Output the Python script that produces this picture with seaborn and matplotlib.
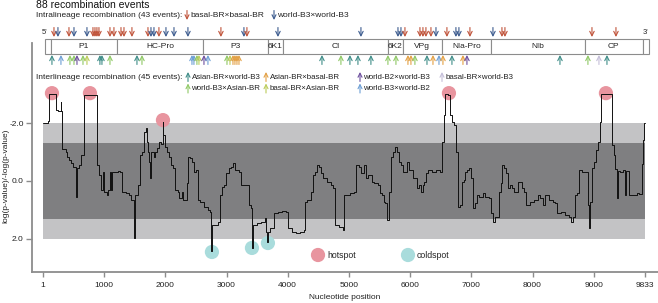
import numpy as np
import matplotlib
matplotlib.use("Agg")
import matplotlib.pyplot as plt
import seaborn as sns

# --- recombination profile (step line) ---
position = [1, 82, 102, 210, 250, 290, 300, 306, 318, 369, 401, 433, 465, 497, 540, 552, 592, 624, 670,
            880, 915, 950, 985, 995, 1040, 1071, 1100, 1110, 1134, 1230, 1262, 1294, 1357, 1402, 1440,
            1485, 1495, 1505, 1549, 1581, 1612, 1644, 1676, 1695, 1721, 1740, 1755, 1765, 1816, 1836,
            1867, 1899, 1931, 1955, 1968, 1995, 2027, 2059, 2091, 2122, 2154, 2205, 2231, 2269, 2295,
            2346, 2377, 2409, 2441, 2473, 2505, 2537, 2569, 2632, 2696, 2728, 2745, 2755, 2824, 2868,
            2887, 2919, 2951, 2996, 3047, 3079, 3111, 3142, 3206, 3238, 3302, 3366, 3397, 3412, 3425,
            3493, 3557, 3621, 3652, 3665, 3680, 3716, 3780, 3844, 3907, 3971, 4003, 4067, 4131, 4194,
            4258, 4290, 4322, 4386, 4417, 4449, 4481, 4513, 4545, 4577, 4641, 4704, 4736, 4768, 4832,
            4896, 4927, 5023, 5087, 5119, 5163, 5202, 5246, 5278, 5310, 5374, 5406, 5469, 5501, 5533,
            5565, 5597, 5629, 5661, 5692, 5724, 5756, 5788, 5820, 5852, 5884, 5916, 5947, 5979, 6043,
            6107, 6139, 6171, 6202, 6234, 6266, 6298, 6362, 6426, 6489, 6521, 6553, 6572, 6617, 6649,
            6681, 6712, 6744, 6776, 6808, 6840, 6872, 6904, 6936, 6967, 6999, 7031, 7063, 7095, 7127,
            7191, 7222, 7286, 7318, 7350, 7382, 7446, 7477, 7509, 7541, 7573, 7605, 7637, 7668, 7700,
            7764, 7828, 7860, 7892, 7956, 8019, 8083, 8115, 8147, 8179, 8211, 8242, 8274, 8338, 8370,
            8402, 8466, 8529, 8593, 8625, 8657, 8689, 8721, 8752, 8816, 8880, 8912, 8920, 8935, 8976,
            9007, 9039, 9071, 9103, 9122, 9294, 9326, 9345, 9380, 9390, 9421, 9485, 9510, 9520, 9570,
            9645, 9708, 9740, 9790, 9805, 9818, 9833]
score = [-2.00, -2.07, -2.99, -2.45, -2.41, -2.74, -2.41, -1.93, -1.10, -1.00, -0.84, -0.72, -0.61, -0.49, 0.55, -0.45, -0.55, -0.90, -2.97,
         -0.55, -0.20, 0.30, -0.32, 0.37, 0.48, 0.31, -0.32, 0.31, -0.32, -0.34, -0.30, 0.37, 0.43, 0.48, 0.66,
         0.71, 1.95, 0.48, 0.14, -0.90, -1.01, -1.70, -1.82, -1.36, -1.01, -0.67, -0.09, -1.01, -0.84, -1.01,
         -1.13, -1.36, -1.26, -2.05, -1.59, -1.18, -1.01, -0.84, -0.55, -0.44, 0.31, 0.37, 0.60, 0.37, 0.66,
         0.08, -0.84, -0.78, -0.67, -0.32, -0.38, 0.66, 0.71, 0.89, 1.00, 1.06, 2.40, 1.52, 1.52, 1.40,
         0.48, 0.20, 0.14, -0.26, -0.44, -0.49, -0.61, -0.38, -0.32, 0.14, 0.14, 0.83, 0.94, 2.30, 1.52,
         1.46, 1.40, 1.29, 1.75, 2.10, 1.75, 1.63, 1.12, 1.08, 1.03, 1.06, 1.63, 1.75, 1.80, 1.75,
         1.69, 0.71, 0.66, 0.37, -0.21, -0.32, -0.55, -0.49, -0.26, -0.09, 0.02, 0.14, 0.25, 1.52, 1.58,
         1.69, 0.48, 0.43, 0.37, -0.55, -0.49, -0.26, -0.55, -0.09, -0.21, 0.02, 0.08, 0.14, 0.43, 0.48,
         0.71, 0.77, 1.35, 0.37, -0.84, -1.01, -1.18, -1.01, -0.67, -0.55, -0.32, -0.32, -0.67, -0.38, -0.09,
         0.25, 0.14, 0.37, 0.14, 0.02, -0.26, -0.38, -0.32, -0.38, -0.32, -1.36, -2.28, -2.99, -2.97, -2.28,
         -2.05, -1.93, -1.01, 0.89, 0.83, 0.02, -0.03, -0.32, -0.38, -0.44, -0.09, 0.94, 0.77, 0.48, 0.54,
         0.43, 0.54, 0.60, 1.12, 1.40, 1.23, 0.37, 0.08, -0.55, -0.44, -0.26, 0.25, 0.14, 0.25, 0.37,
         0.02, 0.25, 0.37, 0.83, 0.71, 0.66, 0.48, 0.60, 0.60, 0.83, 0.48, 0.48, 0.66, 0.71, 0.77,
         1.12, 1.06, 1.17, 1.23, 1.40, 1.23, 0.48, 0.43, -0.38, -0.32, -0.30, 0.83, 1.63, 0.71, -0.44,
         -0.67, -1.07, -1.36, -2.05, -2.99, -1.24, -0.90, -0.40, 0.60, -0.35, -0.32, -0.38, 0.48, -0.35, 0.50,
         0.48, 0.43, 0.45, -0.60, -1.40, -2.00, -2.00]

hot_pos = [147, 768, 1961, 6634, 9199]
hot_val = [-3.03, -3.03, -2.10, -3.03, -3.03]
cold_pos = [2761, 3415, 3676]
cold_val = [2.45, 2.31, 2.14]

# gene map (schematic, in nucleotide scale of the x axis)
gene_names = ["", "P1", "HC-Pro", "P3", "6K1", "CI", "6K2", "VPg", "NIa-Pro", "NIb", "CP", ""]
gene_start = [33, 131, 1209, 2614, 3676, 3922, 5637, 5882, 6520, 7320, 8856, 9804]
gene_end = [131, 1209, 2614, 3676, 3922, 5637, 5882, 6520, 7320, 8856, 9804, 9902]

# intralineage events (arrows pointing down)
intra_pos = [180, 245, 425, 507, 719, 817, 850, 882, 915, 1095, 1160, 1275, 1324, 1454, 1716, 1765,
             1814, 1895, 2010, 2141, 2369, 2908, 3284, 3333, 3840, 5196, 5801, 5850, 5915, 6160, 6209,
             6258, 6340, 6422, 6601, 6748, 6797, 6977, 7353, 7500, 7549, 8971, 9363]
intra_type = ["BB", "WW", "BB", "WW", "WW", "BB", "BB", "BB", "BB", "BB", "BB", "BB", "BB", "BB", "BB", "WW",
              "WW", "BB", "WW", "WW", "WW", "BB", "WW", "BB", "WW", "WW", "WW", "WW", "BB", "BB", "BB",
              "BB", "BB", "WW", "BB", "WW", "WW", "BB", "WW", "BB", "BB", "BB", "BB"]

# interlineage events (arrows pointing up)
inter_pos = [147, 294, 441, 507, 556, 654, 719, 931, 964, 1095, 1536, 1618, 2435, 2467, 2516, 2549,
             2631, 2696, 3007, 3056, 3105, 3137, 3170, 3203, 4559, 4869, 5016, 5147, 5359, 5637, 5768,
             5964, 6013, 6078, 6275, 6373, 6471, 6536, 6683, 6863, 6928, 8448, 8905, 9085, 9216]
inter_type = ["AW", "W3W2", "WA", "WA", "W2W3", "WA", "BA", "AW", "AW", "WA", "AW", "WA", "W3W2", "W3W2", "WA", "BA",
              "W2W3", "W3W2", "WA", "BA", "AB", "AB", "AB", "AB", "AW", "WA", "AW", "AW", "AW", "WA", "WA",
              "AB", "AB", "WA", "AW", "AB", "W3W2", "AB", "AW", "AB", "W2W3", "AW", "WA", "BW", "AW"]

colors = {"BB": "#c0533a", "WW": "#3d5c8f", "AW": "#3f8d88", "WA": "#8fc865", "AB": "#e3a044",
          "BA": "#bccc5a", "W2W3": "#6d4f9e", "W3W2": "#6d9fd4", "BW": "#c5bfd9"}
intra_labels = [("BB", "basal-BR×basal-BR"), ("WW", "world-B3×world-B3")]
inter_labels = [("AW", "Asian-BR×world-B3"), ("AB", "Asian-BR×basal-BR"), ("W2W3", "world-B2×world-B3"),
                ("BW", "basal-BR×world-B3"), ("WA", "world-B3×Asian-BR"), ("BA", "basal-BR×Asian-BR"),
                ("W3W2", "world-B3×world-B2")]

xticks = [1, 1000, 2000, 3000, 4000, 5000, 6000, 7000, 8000, 9000, 9833]

sns.set_theme(style="white")
plt.rcParams["font.family"] = ["Liberation Sans", "DejaVu Sans"]

W, H = 658, 303
fig = plt.figure(figsize=(W / 100, H / 100), dpi=100)


def fx(px):
    return px / W


def fy(py):
    return 1 - py / H


spine_c = "#8c8c8c"
ax = fig.add_axes([fx(32), fy(272), fx(626), 229 / H])
ax.set_xlim(-179, 10050)
ax.set_ylim(3.14, -4.76)

# significance bands
ax.fill_between([1, 9833], -2, 2, color="#c3c3c5", lw=0, zorder=0)
ax.fill_between([1, 9833], -1.3, 1.3, color="#7f7f81", lw=0, zorder=1)

sns.scatterplot(x=hot_pos, y=hot_val, s=105, color="#e8959f", edgecolor="none", zorder=2, ax=ax)
sns.scatterplot(x=cold_pos, y=cold_val, s=105, color="#a9dcdc", edgecolor="none", zorder=2, ax=ax)
sns.lineplot(x=position, y=score, drawstyle="steps-post", estimator=None, sort=False,
             color="#111111", lw=0.7, zorder=3, ax=ax)

sns.despine(ax=ax)
for s in ["left", "bottom"]:
    ax.spines[s].set_color(spine_c)
    ax.spines[s].set_linewidth(1.3)
ax.set_yticks([-2, 0, 2])
ax.set_yticklabels(["-2.0", "0.0", "2.0"])
ax.set_xticks(xticks)
ax.set_xticklabels([str(t) for t in xticks])
ax.tick_params(axis="both", which="major", bottom=True, left=True, direction="out",
               color=spine_c, width=1, labelsize=6, labelcolor="#222222")
ax.tick_params(axis="x", length=3.5, pad=3.5)
ax.tick_params(axis="y", length=4.5, pad=1.5)
ax.set_xlabel("Nucleotide position", fontsize=6, color="#222222")
ax.set_ylabel("log(p-value)/-log(p-value)", fontsize=6, color="#222222")
ax.xaxis.set_label_coords(0.5, -0.095)
ax.yaxis.set_label_coords(-0.036, 0.42)

# hotspot / coldspot key
ax.scatter([(318 - 32) / 626], [(272 - 255) / 229], s=105, color="#e8959f", edgecolor="none",
           transform=ax.transAxes, clip_on=False)
ax.scatter([(408 - 32) / 626], [(272 - 255) / 229], s=105, color="#a9dcdc", edgecolor="none",
           transform=ax.transAxes, clip_on=False)
ax.text((327 - 32) / 626, (272 - 255) / 229, "hotspot", fontsize=6.3, va="center", transform=ax.transAxes)
ax.text((417 - 32) / 626, (272 - 255) / 229, "coldspot", fontsize=6.3, va="center", transform=ax.transAxes)

# gene map and event arrows, x in nucleotides, y in figure rows
axm = fig.add_axes([fx(32), 0, fx(626), 1])
axm.set_xlim(ax.get_xlim())
axm.set_ylim(H, 0)
axm.axis("off")

starts = np.array(gene_start)
ends = np.array(gene_end)
axm.barh(y=[46.5] * len(starts), width=ends - starts, left=starts, height=15,
         color="white", edgecolor=spine_c, linewidth=0.8)
for name, a, b in zip(gene_names, starts, ends):
    axm.text((a + b) / 2, 46.8, name, fontsize=6, ha="center", va="center", color="#222222")
axm.text(gene_start[0], 33, "5'", fontsize=5.5, ha="center", va="center")
axm.text(gene_start[-1], 33, "3'", fontsize=5.5, ha="left", va="center")

arrow_style = "->,head_length=0.32,head_width=0.16"
for p, t in zip(intra_pos, intra_type):
    axm.annotate("", xy=(p, 37), xytext=(p, 27.5),
                 arrowprops=dict(arrowstyle=arrow_style, color=colors[t], lw=0.8,
                                 shrinkA=0, shrinkB=0, mutation_scale=10))
for p, t in zip(inter_pos, inter_type):
    axm.annotate("", xy=(p, 55), xytext=(p, 64.5),
                 arrowprops=dict(arrowstyle=arrow_style, color=colors[t], lw=0.8,
                                 shrinkA=0, shrinkB=0, mutation_scale=10))

# titles and legends
fig.text(fx(36), fy(5.5), "88 recombination events", fontsize=7.5, va="center", color="#111111")
fig.text(fx(36), fy(15.5), "Intralineage recombination (43 events):", fontsize=6, va="center", color="#222222")
fig.text(fx(36), fy(77), "Interlineage recombination (45 events):", fontsize=6, va="center", color="#222222")


def key_arrow(px, py, key, label, down, size=6):
    y0, y1 = (py - 5, py + 4.5) if down else (py + 4.5, py - 5)
    fig.add_artist(matplotlib.patches.FancyArrowPatch(
        (fx(px), fy(y0)), (fx(px), fy(y1)), transform=fig.transFigure,
        arrowstyle=arrow_style, color=colors[key], lw=0.8, mutation_scale=9,
        shrinkA=0, shrinkB=0))
    fig.text(fx(px + 3.5), fy(py), label, fontsize=size, va="center", color="#222222")


key_x = [187, 274]
for (k, lab), px in zip(intra_labels, key_x):
    key_arrow(px, 15.5, k, lab, True)
inter_x = [188, 266, 360, 442, 188, 266, 360]
inter_y = [77, 77, 77, 77, 88.5, 88.5, 88.5]
for (k, lab), px, py in zip(inter_labels, inter_x, inter_y):
    key_arrow(px, py, k, lab, False, size=5.7)

fig.savefig("out.png", dpi=100)
